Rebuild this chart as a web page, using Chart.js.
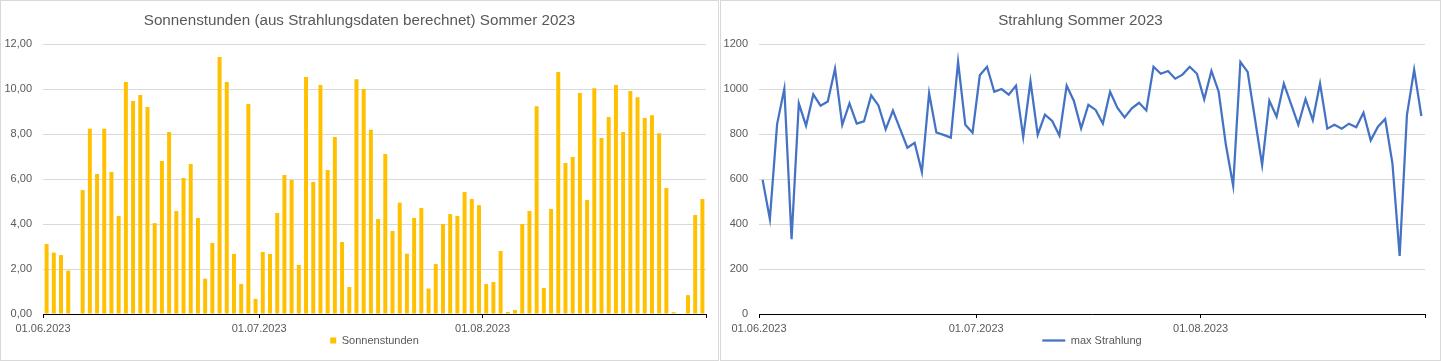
<!DOCTYPE html>
<html lang="de">
<head>
<meta charset="UTF-8">
<title>Sommer 2023</title>
<script src="https://cdn.jsdelivr.net/npm/chart.js@4.4.0/dist/chart.umd.min.js"></script>
<style>
  body { margin: 0; background: #fff; }
  .panel { position: absolute; top: 0; height: 361px; box-sizing: border-box; border: 1px solid #d9d9d9; }
  #left { left: 0; width: 719px; }
  #right { left: 720px; width: 721px; }
  canvas { display: block; }
</style>
</head>
<body>
<div class="panel" id="left"><canvas id="sunChart" width="717" height="359"></canvas></div>
<div class="panel" id="right"><canvas id="radChart" width="719" height="359"></canvas></div>

<script>
// one value per day, 01.06.2023 (index 0) .. 31.08.2023 (index 91)
const sonnenstunden = [
  3.11, 2.73, 2.62, 1.93, 0, 5.51, 8.24, 6.22, 8.24, 6.31,
  4.36, 10.31, 9.47, 9.73, 9.20, 4.04, 6.80, 8.09, 4.58, 6.04,
  6.67, 4.27, 1.57, 3.16, 11.42, 10.31, 2.67, 1.33, 9.33, 0.67,
  2.76, 2.67, 4.49, 6.18, 5.96, 2.18, 10.53, 5.87, 10.18, 6.40,
  7.87, 3.20, 1.20, 10.44, 10.00, 8.19, 4.22, 7.11, 3.69, 4.95,
  2.68, 4.27, 4.71, 1.13, 2.22, 4.00, 4.44, 4.36, 5.42, 5.11,
  4.84, 1.33, 1.42, 2.80, 0.09, 0.18, 4.00, 4.58, 9.24, 1.16,
  4.67, 10.76, 6.71, 6.98, 9.82, 5.07, 10.04, 7.82, 8.76, 10.18,
  8.09, 9.91, 9.64, 8.71, 8.84, 8.04, 5.60, 0.08, 0, 0.84,
  4.40, 5.11
]

const maxStrahlung = [
  596, 422, 844, 1001, 332, 936, 837, 976, 926, 945,
  1090, 841, 936, 846, 856, 972, 927, 821, 904, 822,
  739, 761, 631, 981, 807, 796, 784, 1121, 841, 806,
  1061, 1099, 988, 1000, 975, 1015, 787, 1034, 797, 886,
  858, 793, 1015, 947, 825, 930, 907, 847, 988, 917,
  874, 914, 939, 905, 1099, 1068, 1080, 1046, 1064, 1099,
  1068, 954, 1081, 988, 751, 570, 1120, 1076, 870, 662,
  948, 877, 1024, 933, 841, 956, 862, 1024, 824, 841,
  824, 846, 830, 895, 772, 833, 867, 670, 258, 883,
  1086, 880
]

// date axis: day offsets of the month starts and the end of the range
const tickDays = [0, 30, 61, 92]
const tickLabels = ['01.06.2023', '01.07.2023', '01.08.2023', '']

Chart.defaults.font.family = "'Liberation Sans', Arial, sans-serif"
Chart.defaults.color = '#595959'

function toPoints(values) {
  return values.map((v, i) => ({ x: i + 0.5, y: v }))
}

function dateAxis() {
  return {
    type: 'linear',
    min: 0,
    max: 92,
    offset: false,
    afterBuildTicks: scale => { scale.ticks = tickDays.map(v => ({ value: v })) },
    // tick 4 + padding 5 + one 11px line
    afterFit: scale => { scale.height = 20 },
    ticks: {
      autoSkip: false,
      maxRotation: 0,
      padding: 5,
      font: { size: 11, lineHeight: 1 },
      color: '#595959',
      callback: (v, i) => tickLabels[i]
    },
    grid: { offset: false, drawOnChartArea: false, drawTicks: true, tickLength: 4, color: '#000' },
    border: { display: true, color: '#000', width: 1 }
  }
}

function valueAxis(max, step, fmt, width) {
  return {
    min: 0,
    max: max,
    ticks: { stepSize: step, padding: 11, font: { size: 11 }, color: '#595959', callback: fmt },
    grid: { color: '#d9d9d9', drawTicks: false },
    border: { display: false },
    afterFit: scale => { scale.width = width }
  }
}

// empty strip on the right so the title stays centred on the whole panel
function spacerAxis(width) {
  return {
    position: 'right',
    display: true,
    ticks: { display: false },
    grid: { display: false },
    border: { display: false },
    afterFit: scale => { scale.width = width }
  }
}

function titleOpts(text) {
  return {
    display: true,
    text: text,
    color: '#595959',
    font: { size: 15.2, weight: 'normal' },
    padding: { top: 11, bottom: 13.8 }
  }
}

new Chart('sunChart', {
  type: 'bar',
  data: {
    datasets: [{
      label: 'Sonnenstunden',
      data: toPoints(sonnenstunden),
      backgroundColor: '#FFC000',
      borderWidth: 0,
      barPercentage: 0.55,
      categoryPercentage: 1
    }]
  },
  options: {
    responsive: false,
    animation: false,
    layout: { padding: { left: 0, right: 0, top: 0, bottom: 4 } },
    scales: {
      x: dateAxis(),
      y: valueAxis(12, 2, v => v.toFixed(2).replace('.', ','), 42),
      pad: spacerAxis(12)
    },
    plugins: {
      title: titleOpts('Sonnenstunden (aus Strahlungsdaten berechnet) Sommer 2023'),
      legend: {
        position: 'bottom',
        fullSize: false,
        labels: { boxWidth: 6, boxHeight: 6, padding: 1, font: { size: 11 }, color: '#595959' }
      },
      tooltip: { enabled: false }
    }
  }
})

new Chart('radChart', {
  type: 'line',
  data: {
    datasets: [{
      label: 'max Strahlung',
      data: toPoints(maxStrahlung),
      borderColor: '#4472C4',
      backgroundColor: '#4472C4',
      borderWidth: 2.25,
      pointRadius: 0,
      tension: 0,
      fill: false
    }]
  },
  options: {
    responsive: false,
    animation: false,
    layout: { padding: { left: 0, right: 0, top: 0, bottom: 4 } },
    scales: {
      x: dateAxis(),
      y: valueAxis(1200, 200, v => String(v), 38),
      pad: spacerAxis(15)
    },
    plugins: {
      title: titleOpts('Strahlung Sommer 2023'),
      legend: {
        position: 'bottom',
        fullSize: false,
        labels: { usePointStyle: true, pointStyle: 'line', pointStyleWidth: 23, boxHeight: 6, padding: 1, font: { size: 11 }, color: '#595959' }
      },
      tooltip: { enabled: false }
    }
  }
})
</script>
</body>
</html>
